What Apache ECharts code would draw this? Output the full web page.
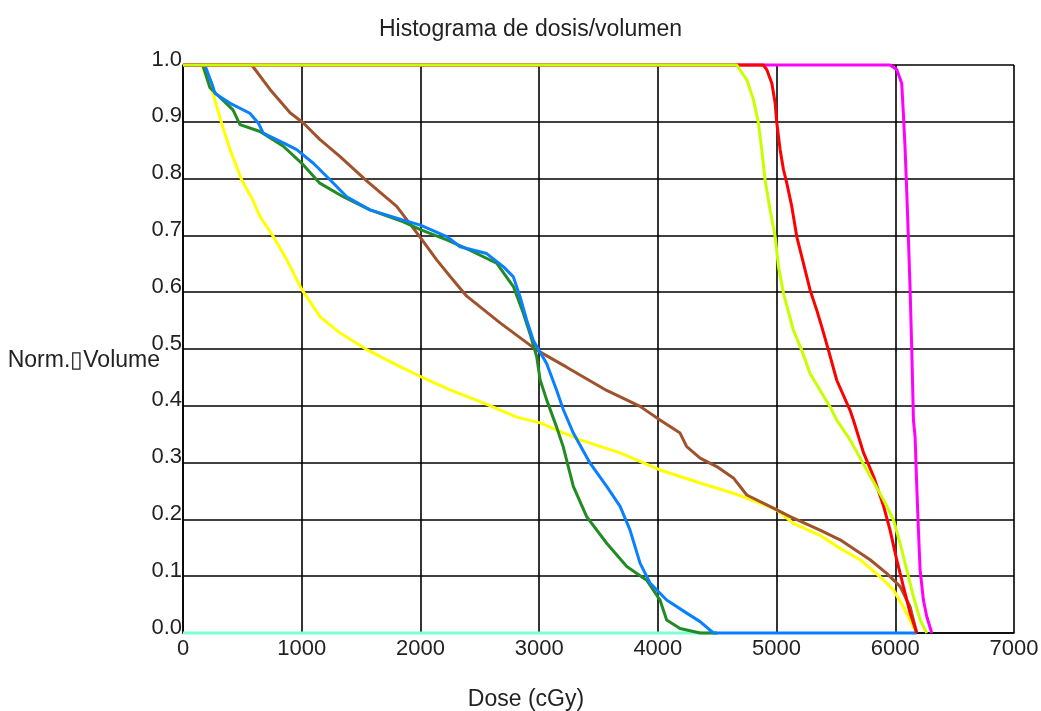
<!DOCTYPE html>
<html>
<head>
<meta charset="utf-8">
<script src="https://cdn.jsdelivr.net/npm/echarts@6/dist/echarts.min.js"></script>
<style>
html,body{margin:0;padding:0;background:#fff;}
#c{width:1041px;height:711px;}
</style>
</head>
<body>
<div id="c"></div>
<script>
// ---- data (dose in cGy, normalized volume) ----
const titleText = 'Histograma de dosis/volumen';
const xName = 'Dose (cGy)';
const yName = 'Norm.\u25AFVolume';
const xTicks = [0, 1000, 2000, 3000, 4000, 5000, 6000, 7000];
const yTicks = [0.0, 0.1, 0.2, 0.3, 0.4, 0.5, 0.6, 0.7, 0.8, 0.9, 1.0];

const tealCurve = [[0,0],[4500,0]];
const yellowCurve = [[0,1],[157,1],[242,0.957],[326,0.897],[396,0.851],[494,0.798],[579,0.766],[649,0.733],[761,0.698],[874,0.657],[1000,0.605],[1154,0.557],[1323,0.528],[1547,0.499],[1828,0.469],[1997,0.452],[2249,0.428],[2530,0.405],[2811,0.38],[3008,0.37],[3345,0.34],[3682,0.317],[4018,0.287],[4356,0.264],[4636,0.246],[4833,0.231],[5000,0.217],[5142,0.193],[5366,0.172],[5535,0.149],[5703,0.129],[5872,0.099],[5984,0.076],[6068,0.046],[6153,0.011],[6181,0]];
const brownCurve = [[0,1],[579,1],[733,0.957],[902,0.916],[1014,0.898],[1152,0.869],[1321,0.839],[1547,0.796],[1800,0.751],[1997,0.697],[2137,0.657],[2249,0.628],[2390,0.593],[2671,0.546],[2980,0.498],[3232,0.468],[3569,0.427],[3850,0.399],[4018,0.375],[4187,0.352],[4243,0.328],[4356,0.308],[4496,0.293],[4636,0.273],[4749,0.243],[4973,0.22],[5114,0.205],[5366,0.181],[5535,0.164],[5788,0.129],[5928,0.105],[6040,0.082],[6125,0.046],[6181,0]];
const greenCurve = [[0,1],[167,1],[227,0.96],[421,0.921],[480,0.895],[649,0.883],[845,0.857],[1014,0.824],[1152,0.792],[1349,0.768],[1575,0.745],[1856,0.724],[2000,0.71],[2222,0.692],[2416,0.674],[2642,0.651],[2783,0.61],[2867,0.563],[2923,0.527],[2980,0.486],[3008,0.446],[3064,0.41],[3148,0.362],[3204,0.327],[3288,0.258],[3400,0.205],[3569,0.158],[3738,0.117],[3906,0.093],[4018,0.058],[4074,0.023],[4187,0.008],[4356,0],[4500,0]];
const blueCurve = [[0,1],[184,1],[242,0.968],[270,0.95],[394,0.933],[563,0.915],[634,0.898],[676,0.88],[845,0.863],[958,0.851],[1098,0.827],[1238,0.798],[1379,0.768],[1575,0.745],[1856,0.727],[2000,0.718],[2222,0.698],[2334,0.68],[2558,0.668],[2698,0.645],[2783,0.627],[2839,0.592],[2895,0.551],[2951,0.515],[3064,0.474],[3148,0.427],[3204,0.393],[3288,0.352],[3429,0.299],[3569,0.258],[3682,0.223],[3766,0.181],[3850,0.123],[3934,0.088],[4074,0.058],[4243,0.035],[4356,0.02],[4468,0],[6181,0]];
const magentaCurve = [[0,1],[5956,1],[6012,0.992],[6054,0.968],[6068,0.915],[6083,0.851],[6097,0.774],[6111,0.692],[6125,0.604],[6139,0.498],[6153,0.375],[6167,0.345],[6181,0.258],[6195,0.181],[6209,0.111],[6237,0.058],[6265,0.029],[6307,0]];
const redCurve = [[0,1],[4889,1],[4917,0.992],[4960,0.968],[4988,0.933],[5002,0.898],[5030,0.851],[5058,0.816],[5086,0.792],[5128,0.751],[5170,0.698],[5226,0.651],[5282,0.604],[5339,0.568],[5381,0.539],[5437,0.498],[5507,0.445],[5619,0.392],[5647,0.375],[5733,0.317],[5818,0.275],[5902,0.223],[5956,0.181],[6012,0.129],[6068,0.082],[6125,0.035],[6181,0]];
const limeCurve = [[0,1],[4664,1],[4749,0.974],[4805,0.939],[4847,0.898],[4875,0.851],[4903,0.798],[4945,0.745],[4988,0.698],[5016,0.645],[5058,0.598],[5142,0.533],[5212,0.498],[5282,0.457],[5451,0.398],[5507,0.375],[5619,0.34],[5760,0.287],[5902,0.234],[5985,0.199],[6040,0.158],[6097,0.111],[6153,0.064],[6209,0.023],[6265,0]];

const seriesDefs = [
  ['teal', tealCurve, '#7fffd4'],
  ['yellow', yellowCurve, '#ffff00'],
  ['brown', brownCurve, '#a0522d'],
  ['green', greenCurve, '#228b22'],
  ['blue', blueCurve, '#0a80ff'],
  ['magenta', magentaCurve, '#ff00ff'],
  ['red', redCurve, '#ff0000'],
  ['lime', limeCurve, '#c8ff00']
];

const FONT = "'Liberation Sans', Arial, sans-serif";
const TXT = '#222';
const chart = echarts.init(document.getElementById('c'), null, {renderer: 'canvas'});
chart.setOption({
  animation: false,
  backgroundColor: '#fff',
  title: {
    text: titleText,
    left: 379, top: 18,
    padding: 0,
    textStyle: {fontFamily: FONT, fontSize: 23, fontWeight: 'normal', color: TXT}
  },
  grid: {left: 183, top: 65, width: 831, height: 568, containLabel: false, outerBoundsMode: 'none'},
  xAxis: {
    type: 'value', min: xTicks[0], max: xTicks[xTicks.length - 1], interval: 1000,
    name: xName, nameLocation: 'middle', nameGap: 55, nameMoveOverlap: false,
    nameTextStyle: {fontFamily: FONT, fontSize: 23, color: TXT, padding: [0, 145, 0, 0]},
    axisLine: {show: true, lineStyle: {color: '#000', width: 1.6}},
    axisTick: {show: false},
    splitLine: {show: true, lineStyle: {color: '#000', width: 1.6}},
    axisLabel: {fontFamily: FONT, fontSize: 22, color: TXT, margin: 5,
      formatter: v => xTicks.includes(v) ? String(v) : ''}
  },
  yAxis: {
    type: 'value', min: yTicks[0], max: yTicks[yTicks.length - 1], interval: 0.1,
    name: yName, nameLocation: 'middle', nameRotate: 0, nameGap: 23, nameMoveOverlap: false,
    nameTextStyle: {fontFamily: FONT, fontSize: 23, color: TXT, align: 'right', verticalAlign: 'top'},
    axisLine: {show: true, lineStyle: {color: '#000', width: 1.6}},
    axisTick: {show: false},
    splitLine: {show: true, lineStyle: {color: '#000', width: 1.6}},
    axisLabel: {fontFamily: FONT, fontSize: 22, color: TXT, margin: 1,
      verticalAlign: 'bottom', lineHeight: 11,
      formatter: v => v.toFixed(1)}
  },
  series: seriesDefs.map(([name, data, color]) => ({
    name, type: 'line', data, showSymbol: false, symbol: 'none',
    lineStyle: {color, width: 3}, itemStyle: {color},
    clip: false, z: 3
  }))
});
</script>
</body>
</html>
